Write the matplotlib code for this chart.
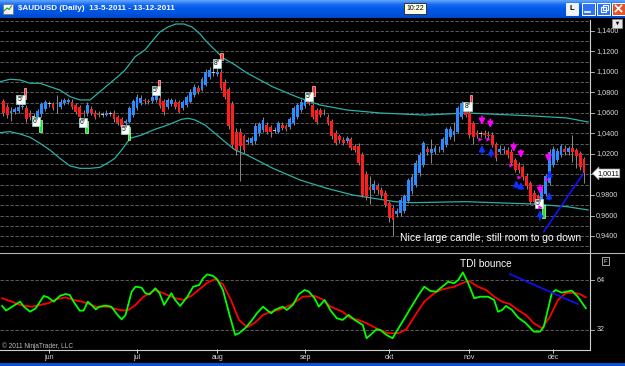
import matplotlib
matplotlib.use('Agg')
import matplotlib.pyplot as plt
import matplotlib.transforms as mtransforms
from matplotlib.colors import LinearSegmentedColormap
from matplotlib.patches import Rectangle
import numpy as np

plt.rcParams['font.family'] = ['Liberation Sans', 'DejaVu Sans']

# $AUDUSD daily bars, 13-5-2011 .. 13-12-2011
opens = [
    1.0717, 1.0662, 1.0600, 1.0613, 1.0622, 1.0655, 1.0652, 1.0603, 1.0560, 1.0564,
    1.0590, 1.0640, 1.0690, 1.0685, 1.0655, 1.0662, 1.0700, 1.0710, 1.0711, 1.0678,
    1.0662, 1.0600, 1.0597, 1.0636, 1.0600, 1.0590, 1.0585, 1.0585, 1.0597, 1.0603,
    1.0560, 1.0538, 1.0499, 1.0515, 1.0580, 1.0646, 1.0701, 1.0730, 1.0715, 1.0717,
    1.0727, 1.0750, 1.0717, 1.0662, 1.0688, 1.0711, 1.0704, 1.0652, 1.0678, 1.0711,
    1.0776, 1.0841, 1.0824, 1.0873, 1.0948, 1.0995, 1.0985, 1.1003, 1.0906, 1.0831,
    1.0690, 1.0417, 1.0417, 1.0371, 1.0320, 1.0307, 1.0323, 1.0404, 1.0434, 1.0483,
    1.0460, 1.0432, 1.0418, 1.0483, 1.0473, 1.0467, 1.0499, 1.0564, 1.0629, 1.0668,
    1.0710, 1.0678, 1.0629, 1.0629, 1.0612, 1.0564, 1.0520, 1.0404, 1.0371, 1.0339,
    1.0330, 1.0345, 1.0274, 1.0280, 1.0190, 1.0007, 0.9880, 0.9851, 0.9890, 0.9851,
    0.9819, 0.9722, 0.9672, 0.9618, 0.9624, 0.9640, 0.9738, 0.9835, 0.9900, 1.0014,
    1.0095, 1.0250, 1.0207, 1.0223, 1.0245, 1.0241, 1.0290, 1.0369, 1.0385, 1.0418,
    1.0564, 1.0621, 1.0597, 1.0499, 1.0408, 1.0400, 1.0400, 1.0390, 1.0385, 1.0297,
    1.0223, 1.0240, 1.0241, 1.0223, 1.0141, 1.0095, 1.0070, 0.9988, 0.9914, 0.9819,
    0.9786, 0.9720, 0.9810, 0.9914, 1.0095, 1.0141, 1.0190, 1.0248, 1.0215, 1.0255,
    1.0235, 1.0207, 1.0150]
closes = [
    1.0597, 1.0580, 1.0615, 1.0635, 1.0662, 1.0672, 1.0538, 1.0557, 1.0566, 1.0622,
    1.0690, 1.0705, 1.0692, 1.0650, 1.0662, 1.0711, 1.0722, 1.0727, 1.0662, 1.0613,
    1.0564, 1.0590, 1.0678, 1.0603, 1.0564, 1.0580, 1.0590, 1.0600, 1.0594, 1.0538,
    1.0505, 1.0467, 1.0525, 1.0646, 1.0717, 1.0759, 1.0750, 1.0715, 1.0705, 1.0759,
    1.0776, 1.0672, 1.0613, 1.0727, 1.0727, 1.0662, 1.0613, 1.0711, 1.0753, 1.0808,
    1.0857, 1.0808, 1.0929, 1.1003, 1.1020, 1.0988, 1.0995, 1.0841, 1.0759, 1.0470,
    1.0290, 1.0241, 1.0274, 1.0241, 1.0339, 1.0355, 1.0476, 1.0490, 1.0532, 1.0418,
    1.0410, 1.0428, 1.0499, 1.0450, 1.0440, 1.0538, 1.0646, 1.0678, 1.0711, 1.0727,
    1.0700, 1.0564, 1.0515, 1.0580, 1.0608, 1.0499, 1.0371, 1.0307, 1.0339, 1.0307,
    1.0355, 1.0258, 1.0241, 1.0111, 0.9800, 0.9780, 0.9850, 0.9911, 0.9850, 0.9800,
    0.9705, 0.9575, 0.9559, 0.9640, 0.9754, 0.9786, 0.9949, 0.9975, 1.0117, 1.0192,
    1.0307, 1.0215, 1.0248, 1.0258, 1.0250, 1.0343, 1.0441, 1.0441, 1.0420, 1.0646,
    1.0694, 1.0580, 1.0385, 1.0369, 1.0390, 1.0395, 1.0385, 1.0380, 1.0290, 1.0160,
    1.0248, 1.0250, 1.0190, 1.0111, 1.0046, 1.0040, 0.9975, 0.9883, 0.9735, 0.9735,
    0.9703, 0.9870, 0.9981, 1.0223, 1.0248, 1.0229, 1.0274, 1.0223, 1.0255, 1.0215,
    1.0185, 1.0070, 1.0011]
highs = [
    1.0740, 1.0690, 1.0662, 1.0655, 1.0690, 1.0700, 1.0680, 1.0630, 1.0600, 1.0640,
    1.0710, 1.0730, 1.0720, 1.0705, 1.0776, 1.0740, 1.0745, 1.0750, 1.0735, 1.0700,
    1.0680, 1.0625, 1.0705, 1.0665, 1.0625, 1.0615, 1.0610, 1.0625, 1.0615, 1.0625,
    1.0580, 1.0560, 1.0545, 1.0665, 1.0735, 1.0790, 1.0775, 1.0750, 1.0740, 1.0780,
    1.0800, 1.0790, 1.0735, 1.0750, 1.0750, 1.0735, 1.0725, 1.0730, 1.0775, 1.0830,
    1.0880, 1.0870, 1.0950, 1.1030, 1.1045, 1.1088, 1.1070, 1.1025, 1.0930, 1.0850,
    1.0720, 1.0450, 1.0450, 1.0395, 1.0370, 1.0380, 1.0500, 1.0515, 1.0560, 1.0510,
    1.0485, 1.0460, 1.0520, 1.0510, 1.0495, 1.0560, 1.0670, 1.0700, 1.0735, 1.0760,
    1.0740, 1.0700, 1.0650, 1.0650, 1.0640, 1.0590, 1.0545, 1.0430, 1.0395, 1.0365,
    1.0380, 1.0370, 1.0300, 1.0310, 1.0215, 1.0035, 0.9990, 0.9950, 0.9920, 0.9880,
    0.9845, 0.9745, 0.9700, 0.9670, 0.9780, 0.9810, 0.9970, 1.0000, 1.0140, 1.0215,
    1.0330, 1.0275, 1.0343, 1.0290, 1.0275, 1.0365, 1.0465, 1.0470, 1.0515, 1.0670,
    1.0720, 1.0700, 1.0620, 1.0520, 1.0430, 1.0425, 1.0430, 1.0420, 1.0410, 1.0320,
    1.0290, 1.0280, 1.0265, 1.0250, 1.0165, 1.0120, 1.0095, 1.0010, 0.9940, 0.9845,
    0.9810, 0.9895, 1.0005, 1.0250, 1.0275, 1.0255, 1.0300, 1.0290, 1.0280, 1.0385,
    1.0255, 1.0230, 1.0175]
lows = [
    1.0570, 1.0555, 1.0520, 1.0590, 1.0600, 1.0640, 1.0510, 1.0530, 1.0530, 1.0540,
    1.0560, 1.0620, 1.0660, 1.0630, 1.0597, 1.0640, 1.0680, 1.0690, 1.0640, 1.0590,
    1.0540, 1.0560, 1.0575, 1.0580, 1.0540, 1.0560, 1.0565, 1.0570, 1.0575, 1.0515,
    1.0480, 1.0440, 1.0470, 1.0500, 1.0565, 1.0630, 1.0680, 1.0690, 1.0685, 1.0695,
    1.0710, 1.0650, 1.0585, 1.0640, 1.0670, 1.0640, 1.0595, 1.0630, 1.0660, 1.0695,
    1.0760, 1.0790, 1.0810, 1.0860, 1.0930, 1.0960, 1.0960, 1.0820, 1.0735, 1.0440,
    1.0260, 1.0193, 0.9932, 1.0210, 1.0295, 1.0285, 1.0300, 1.0380, 1.0410, 1.0395,
    1.0370, 1.0400, 1.0400, 1.0430, 1.0420, 1.0445, 1.0480, 1.0545, 1.0610, 1.0650,
    1.0680, 1.0540, 1.0490, 1.0560, 1.0585, 1.0480, 1.0350, 1.0285, 1.0310, 1.0285,
    1.0305, 1.0235, 1.0215, 1.0090, 0.9780, 0.9750, 0.9710, 0.9820, 0.9810, 0.9770,
    0.9680, 0.9540, 0.9400, 0.9590, 0.9600, 0.9620, 0.9720, 0.9810, 0.9880, 0.9990,
    1.0075, 1.0190, 1.0111, 1.0200, 1.0220, 1.0220, 1.0270, 1.0350, 1.0330, 1.0400,
    1.0540, 1.0560, 1.0360, 1.0300, 1.0360, 1.0370, 1.0355, 1.0350, 1.0265, 1.0130,
    1.0200, 1.0200, 1.0165, 1.0090, 1.0020, 1.0015, 0.9950, 0.9860, 0.9710, 0.9710,
    0.9680, 0.9700, 0.9790, 0.9895, 1.0075, 1.0120, 1.0170, 1.0195, 1.0190, 1.0120,
    1.0060, 1.0045, 0.9920]

month_bars = [12, 35, 56, 79, 101, 122, 144]
month_labels = ['jun', 'jul', 'aug', 'sep', 'okt', 'nov', 'dec']

# envelope bands (bar position, price)
band_up_x = [-0.9, 1.75, 4.4, 7.0, 9.6, 12.2, 14.8, 17.5, 20.1, 22.7, 25.3, 27.9, 30.5,
             31.9, 34.5, 37.1, 39.2, 41.0, 43.1, 45.2, 47.3, 49.4, 51.5, 52.8, 57.5,
             60.7, 63.8, 70.6, 76.9, 82.9, 90.0, 98.6, 110.4, 121.4, 138.7, 147.6, 153.1]
band_up = [1.0905, 1.0929, 1.0922, 1.0890, 1.0890, 1.0857, 1.0824, 1.0759, 1.0727, 1.0727,
           1.0808, 1.0890, 1.0971, 1.1020, 1.1149, 1.1215, 1.1312, 1.1390, 1.1439, 1.1468,
           1.1468, 1.1439, 1.1371, 1.1312, 1.1137, 1.1068, 1.0990, 1.0854, 1.0756, 1.0678,
           1.0629, 1.0600, 1.0580, 1.0600, 1.0571, 1.0551, 1.0512]
band_lo_x = [-0.9, 1.75, 4.4, 7.0, 9.6, 12.2, 14.8, 17.5, 20.1, 22.7, 25.3, 27.9, 29.2,
             31.0, 33.2, 36.2, 39.7, 42.3, 44.5, 46.7, 48.4, 50.2, 52.8, 55.4, 58.0,
             60.7, 63.8, 70.6, 77.7, 84.7, 91.5, 95.2, 102.5, 107.0, 120.9, 138.7, 147.6, 153.1]
band_lo = [1.0408, 1.0418, 1.0395, 1.0363, 1.0304, 1.0239, 1.0158, 1.0083, 1.0060, 1.0060,
           1.0070, 1.0125, 1.0158, 1.0240, 1.0353, 1.0385, 1.0441, 1.0473, 1.0505, 1.0539,
           1.0548, 1.0532, 1.0483, 1.0402, 1.0320, 1.0239, 1.0190, 1.0060, 0.9946, 0.9865,
           0.9800, 0.9778, 0.9735, 0.9725, 0.9735, 0.9712, 0.9686, 0.9654]

# TDI panel (bar position, value)
tdi_green_x = [-0.3, 0.7, 2.3, 4.4, 5.4, 7.0, 8.5, 9.6, 10.6, 11.7, 13.2, 14.8, 16.3, 17.4,
               18.4, 20.0, 21.0, 22.1, 23.1, 24.2, 25.2, 26.8, 28.3, 29.9, 31.0, 32.0, 33.6,
               34.6, 36.2, 37.2, 38.3, 39.8, 40.9, 42.1, 44.0, 45.0, 46.3, 48.2, 49.7, 51.3,
               52.3, 53.4, 54.9, 56.0, 57.5, 59.1, 60.7, 61.7, 63.3, 64.8, 66.4, 68.0, 69.0,
               70.1, 71.1, 72.1, 73.2, 74.2, 75.8, 77.4, 78.9, 80.0, 81.5, 82.6, 84.1, 85.7,
               87.3, 88.8, 90.4, 92.0, 94.1, 95.1, 96.1, 97.7, 98.7, 100.3, 101.9, 102.9,
               104.5, 106.6, 108.7, 110.2, 111.8, 113.3, 114.9, 116.5, 118.0, 119.1, 120.3,
               121.7, 123.3, 124.8, 126.9, 128.5, 129.5, 130.6, 131.6, 133.2, 134.7, 136.8,
               138.9, 140.5, 141.5, 143.6, 144.6, 146.2, 148.8, 150.4, 152.5]
tdi_green = [47.4, 44.4, 46.9, 50.1, 46.9, 43.7, 45.9, 50.1, 53.8, 52.9, 50.1, 53.8, 55.0,
             54.4, 50.1, 44.4, 44.4, 50.1, 48.0, 45.2, 46.9, 47.6, 46.9, 41.6, 38.8, 41.6,
             56.5, 59.7, 59.1, 55.5, 54.8, 58.7, 55.5, 48.0, 55.5, 51.2, 47.4, 53.3, 59.7,
             60.8, 65.1, 67.6, 66.6, 64.4, 57.6, 42.7, 28.8, 29.9, 33.1, 37.3, 42.7, 46.9,
             44.8, 42.7, 44.8, 45.9, 46.9, 44.8, 48.0, 55.0, 57.6, 56.5, 52.3, 46.9, 51.2,
             44.4, 39.5, 38.4, 41.6, 38.4, 35.2, 26.7, 28.8, 32.4, 32.0, 28.8, 26.7, 30.9,
             37.3, 45.9, 54.4, 59.7, 57.0, 56.5, 59.7, 62.9, 61.9, 64.0, 68.9, 61.9, 52.3,
             53.3, 53.3, 51.2, 43.7, 44.8, 47.4, 44.8, 40.1, 36.3, 30.9, 30.9, 34.1, 55.5,
             57.6, 55.9, 57.2, 53.3, 45.9]
tdi_red_x = [-0.3, 2.3, 4.4, 7.5, 9.6, 11.7, 13.7, 16.3, 18.4, 21.0, 24.2, 27.3, 30.4, 32.5,
             34.6, 36.7, 39.8, 41.9, 45.0, 47.1, 49.2, 51.3, 53.4, 55.5, 57.5, 59.6, 61.7,
             63.8, 65.9, 68.0, 70.1, 72.1, 75.3, 78.4, 81.5, 83.6, 85.7, 88.8, 90.9, 93.0,
             95.1, 98.2, 100.8, 103.4, 105.5, 107.6, 110.2, 112.8, 114.9, 118.0, 120.1,
             121.7, 124.3, 126.4, 128.5, 130.6, 132.6, 134.7, 136.8, 138.9, 141.0, 143.1,
             145.2, 147.2, 149.3, 150.9, 152.5]
tdi_red = [52.3, 50.1, 48.0, 46.9, 48.0, 49.1, 51.6, 52.9, 51.2, 49.9, 46.9, 46.9, 44.8, 44.4,
           48.0, 53.3, 57.6, 55.5, 52.3, 51.2, 53.8, 58.0, 62.3, 64.6, 61.2, 51.2, 38.4,
           33.7, 36.7, 41.6, 43.7, 44.8, 48.0, 53.3, 53.8, 51.6, 46.9, 43.7, 39.5, 38.4,
           36.3, 32.4, 29.9, 29.9, 32.4, 40.5, 50.1, 55.5, 58.0, 59.7, 61.9, 63.6, 59.7,
           57.6, 53.3, 50.1, 48.6, 44.8, 41.6, 36.3, 33.1, 40.5, 51.2, 55.5, 55.9, 55.0, 52.9]

# signal markers
red_sig_bar = [5.7, 40.8, 57.1, 81.2, 122.4]
red_sig_top = [1.0844, 1.0922, 1.1185, 1.0863, 1.0776]
red_sig_bot = [1.0737, 1.0834, 1.1117, 1.0766, 1.0707]
green_sig_bar = [9.7, 21.8, 32.9, 141.4]
green_sig_top = [1.0532, 1.0522, 1.0463, 0.9702]
green_sig_bot = [1.0415, 1.0405, 1.0337, 0.9576]
label_bar = [4.5, 8.6, 20.9, 31.9, 40.0, 56.0, 80.0, 121.5, 140.2]
label_price = [1.0732, 1.0517, 1.0507, 1.0439, 1.0820, 1.1083, 1.0756, 1.0668, 0.9720]
label_text = ['5', '6', '6', '5', '5', '8', '5', '8', '5']
mag_bar = [125.3, 127.5, 133.6, 135.5, 140.5, 142.7]
mag_top = [1.0571, 1.0541, 1.0307, 1.0239, 0.9898, 1.0210]
mag_bot = [1.0483, 1.0454, 1.0220, 1.0161, 0.9810, 1.0122]
blue_bar = [125.3, 127.7, 134.3, 135.5, 140.5, 142.9, 143.0]
blue_head = [1.0288, 1.0259, 0.9946, 0.9927, 0.9654, 0.9829, 1.0044]
blue_tail = [1.0210, 1.0171, 0.9868, 0.9859, 0.9556, 0.9751, 0.9976]
tri_bar = [124.8, 126.9, 133.0, 134.9, 140.4, 142.3]
tri_price = [1.0346, 1.0346, 1.0093, 0.9980, 0.9683, 0.9956]

trend_main_bar = [141.5, 151.7]
trend_main_price = [0.9442, 1.0002]
trend_tdi_bar = [132.6, 150.4]
trend_tdi = [67.8, 48.6]

price_ticks = [1.14, 1.12, 1.10, 1.08, 1.06, 1.04, 1.02, 1.00, 0.98, 0.96, 0.94]
tdi_ticks = [64, 32]
last_price = 1.0011

BLUE = '#2a8cff'
RED = '#ff1e1e'
TEXT = '#d8d8d8'
W, H = 625.0, 366.0

fig = plt.figure(figsize=(6.25, 3.66), dpi=100, facecolor='black')
ax = fig.add_axes([0, 1 - 252 / H, 590 / W, (252 - 20) / H])
axt = fig.add_axes([0, 1 - 349 / H, 590 / W, (349 - 253) / H])
for a in (ax, axt):
    a.set_facecolor('black')
    a.set_xlim(-0.864, 153.59)
    a.set_xticks([])
    a.set_yticks([])
    for s in a.spines.values():
        s.set_visible(False)
ax.set_ylim(0.9244, 1.1507)
axt.set_ylim(19.8, 81.3)

# grid
for lv in np.arange(0.93, 1.1505, 0.01):
    ax.axhline(lv, color='#6a6a6a', lw=0.6, ls=(0, (4, 2)), zorder=1)
for lv in tdi_ticks:
    axt.axhline(lv, color='#6a6a6a', lw=0.6, ls=(0, (4, 2)), zorder=1)

# bands
ax.plot(band_up_x, band_up, color='#2bb0a6', lw=0.9, zorder=2)
ax.plot(band_lo_x, band_lo, color='#2bb0a6', lw=0.9, zorder=2)

# candles
o = np.array(opens)
c = np.array(closes)
hi = np.array(highs)
lo = np.array(lows)
idx = np.arange(len(c))
cols = np.where(c >= o, BLUE, RED)
cols = np.where(np.abs(c - o) < 0.0009, '#c8c8c8', cols)
ax.vlines(idx, lo, hi, color='#8a8a8a', lw=0.7, zorder=3)
ax.bar(idx, np.maximum(np.abs(c - o), 0.0006), bottom=np.minimum(o, c), width=0.74,
       color=cols, edgecolor='none', zorder=4)

# signals
ax.bar(red_sig_bar, np.array(red_sig_top) - np.array(red_sig_bot), bottom=red_sig_bot,
       width=0.7, color='#ff2a2a', edgecolor='#ffc4c4', lw=0.5, zorder=5)
ax.bar(green_sig_bar, np.array(green_sig_top) - np.array(green_sig_bot), bottom=green_sig_bot,
       width=0.7, color='#1ee61e', edgecolor='#c4ffc4', lw=0.5, zorder=5)
for b, p, t in zip(label_bar, label_price, label_text):
    ax.text(b, p, t + '\u00b0', fontsize=4.8, color='black', ha='center', va='center', zorder=6,
            bbox=dict(boxstyle='square,pad=0.15', fc='white', ec='#9fe0d0', lw=0.5))
arrow_style = dict(arrowstyle='-|>,head_width=0.22,head_length=0.45', lw=1.1,
                   shrinkA=0, shrinkB=0, mutation_scale=8)
for b, t0, t1 in zip(mag_bar, mag_top, mag_bot):
    ax.annotate('', xy=(b, t1), xytext=(b, t0), zorder=6,
                arrowprops=dict(color='#ff00ff', **arrow_style))
for b, hd, tl in zip(blue_bar, blue_head, blue_tail):
    ax.annotate('', xy=(b, hd), xytext=(b, tl), zorder=6,
                arrowprops=dict(color='#1030ff', **arrow_style))
ax.scatter(tri_bar, tri_price, marker='>', s=9, color='#ff00ff', zorder=6, linewidths=0)

ax.plot(trend_main_bar, trend_main_price, color='#1010ff', lw=1.2, zorder=7)
ax.text(103.8, 0.9380, 'Nice large candle, still room to go down', color='white',
        fontsize=7.5, ha='left', va='center', zorder=7)

# price axis labels
blend = mtransforms.blended_transform_factory(ax.transAxes, ax.transData)
for p in price_ticks:
    ax.plot([1.0, 1.007], [p, p], color='#c8c8c8', lw=0.6, transform=blend, clip_on=False)
    ax.text(596 / 590, p, f'{p:.4f}'.replace('.', ','), transform=blend, fontsize=5.2,
            color=TEXT, ha='left', va='center', clip_on=False)
ax.text(597 / 590, last_price, f'{last_price:.4f}'.replace('.', ','), transform=blend,
        fontsize=5.2, color='black', ha='left', va='center', clip_on=False, zorder=8,
        bbox=dict(boxstyle='larrow,pad=0.12', fc='white', ec='#a0a0a0', lw=0.5))

# TDI
axt.plot(tdi_red_x, tdi_red, color='#ff0000', lw=1.3, zorder=3)
axt.plot(tdi_green_x, tdi_green, color='#00ff00', lw=1.3, zorder=4)
axt.plot(trend_tdi_bar, trend_tdi, color='#1010ff', lw=1.2, zorder=5)
axt.text(119.6, 74.2, 'TDI bounce', color='white', fontsize=7.2, ha='left', va='center')
axt.text(-0.4, 21.8, '\u00a9 2011 NinjaTrader, LLC', color='#c0c0c0', fontsize=4.7,
         ha='left', va='center')
blend_t = mtransforms.blended_transform_factory(axt.transAxes, axt.transData)
for v in tdi_ticks:
    axt.plot([1.0, 1.007], [v, v], color='#c8c8c8', lw=0.6, transform=blend_t, clip_on=False)
    axt.text(597 / 590, v, str(v), transform=blend_t, fontsize=5.2, color=TEXT,
             ha='left', va='center', clip_on=False)
blend_x = mtransforms.blended_transform_factory(axt.transData, axt.transAxes)
axt.vlines(month_bars, -0.045, 0, color='#d0d0d0', lw=0.7, transform=blend_x, clip_on=False)
for b, m in zip(month_bars, month_labels):
    axt.text(b, -0.085, m, transform=blend_x, fontsize=5, color=TEXT, ha='center',
             va='center', clip_on=False)

# window chrome, in pixel coordinates
ov = fig.add_axes([0, 0, 1, 1], zorder=5)
ov.patch.set_alpha(0)
ov.axis('off')
cmap = LinearSegmentedColormap.from_list('xp', ['#5ea6ff', '#1a68f0', '#0058e6', '#0053de', '#0046cc'])
ov.imshow(np.linspace(0, 1, 40).reshape(-1, 1), extent=[0, 625, 18, 0], cmap=cmap,
          aspect='auto', zorder=1)
ov.set_xlim(0, 625)
ov.set_ylim(366, 0)
ov.add_patch(Rectangle((0, 363), 625, 3, fc='#0a50d4', ec='none'))
ov.plot([590, 590], [20, 350], color='#d0d0d0', lw=0.8)
ov.plot([0, 625], [252.5, 252.5], color='#b4b4b4', lw=0.8)
ov.plot([0, 590], [349.5, 349.5], color='#d0d0d0', lw=0.8)

ov.add_patch(Rectangle((2.5, 3.5), 10, 10, fc='#f4f4f4', ec='#707070', lw=0.5, zorder=2))
ov.plot([4, 7, 9, 11.5], [11, 8, 9.5, 6], color='#1a9a1a', lw=0.8, zorder=3)
ov.text(18, 9, '$AUDUSD (Daily)  13-5-2011 - 13-12-2011', color='white', fontsize=5.9,
        fontweight='bold', ha='left', va='center', zorder=3)
ov.add_patch(Rectangle((404, 3), 22, 10.5, fc='#ffffe6', ec='#202020', lw=0.6, zorder=2))
ov.text(415, 8.4, '10:22', color='black', fontsize=5, ha='center', va='center', zorder=3)
ov.add_patch(Rectangle((566, 2.5), 11.5, 12, fc='#f2f2f2', ec='#ffffff', lw=0.6, zorder=2))
ov.text(571.8, 8.8, 'L', color='black', fontsize=5.5, fontweight='bold', ha='center',
        va='center', zorder=3)
for bx, fc in [(582, '#2f73f2'), (597, '#2f73f2'), (612, '#e2552b')]:
    ov.add_patch(Rectangle((bx, 2.5), 12.5, 12, fc=fc, ec='#ffffff', lw=0.7, zorder=2))
ov.plot([585, 590], [11.5, 11.5], color='white', lw=1.2, zorder=3)
ov.add_patch(Rectangle((601, 7), 5, 4.5, fc='none', ec='white', lw=0.8, zorder=3))
ov.add_patch(Rectangle((603, 5), 5, 4.5, fc='none', ec='white', lw=0.8, zorder=3))
ov.plot([615.5, 621.5], [5.5, 11.5], color='white', lw=1.2, zorder=3)
ov.plot([615.5, 621.5], [11.5, 5.5], color='white', lw=1.2, zorder=3)
ov.add_patch(Rectangle((612, 18.5), 10, 9, fc='#e6e6e6', ec='#909090', lw=0.5, zorder=2))
ov.scatter([617], [22.5], marker='v', s=6, color='black', zorder=3, linewidths=0)
ov.add_patch(Rectangle((602, 257), 7, 8, fc='black', ec='#c0c0c0', lw=0.6, zorder=2))
ov.text(605.5, 261.2, 'F', color='#e0e0e0', fontsize=4.3, ha='center', va='center', zorder=3)

fig.savefig('out.png', dpi=100, facecolor='black')
